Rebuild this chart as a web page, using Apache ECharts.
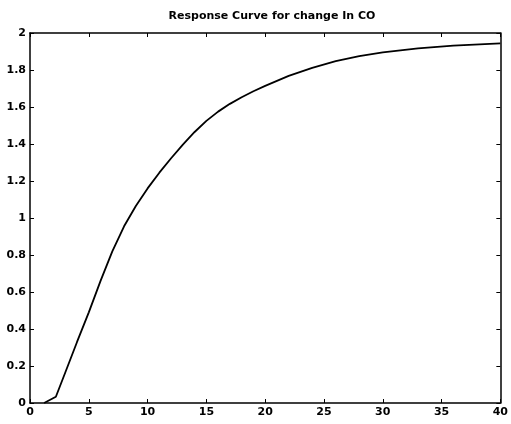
<!DOCTYPE html>
<html>
<head>
<meta charset="utf-8">
<script src="https://cdn.jsdelivr.net/npm/echarts@6/dist/echarts.min.js"></script>
<style>
  html, body { margin: 0; padding: 0; background: #fff; }
  #chart { width: 511px; height: 424px; }
</style>
</head>
<body>
<div id="chart"></div>
<script>
// time steps and response
const timeSteps = [1.2, 2.2, 3, 4, 5, 6, 7, 8, 9, 10, 11, 12, 13, 14, 15, 16, 17, 18, 19, 20, 22, 24, 26, 28, 30, 33, 36, 40];
const response  = [0, 0.034, 0.165, 0.33, 0.49, 0.66, 0.82, 0.955, 1.065, 1.16, 1.245, 1.323, 1.397, 1.465, 1.525, 1.575, 1.617, 1.653, 1.685, 1.714, 1.768, 1.812, 1.848, 1.875, 1.895, 1.917, 1.932, 1.944];
const xTicks = [0, 40, 5];   // min, max, step
const yTicks = [0, 2, 0.2];

const labelFont = { color: '#000', fontSize: 11, fontFamily: 'DejaVu Sans', fontWeight: 'bold' };
const tickStyle = { show: true, inside: true, length: 4, lineStyle: { color: '#000', width: 1 } };
const lineStyle = { show: true, onZero: false, lineStyle: { color: '#000', width: 1.5 } };

const chart = echarts.init(document.getElementById('chart'));
chart.setOption({
  animation: false,
  backgroundColor: '#fff',
  title: {
    text: 'Response Curve for change In CO',
    left: 267, top: 6, textAlign: 'center',
    textStyle: { color: '#000', fontSize: 11, fontFamily: 'DejaVu Sans', fontWeight: 'bold' }
  },
  grid: { left: 30, right: 8, top: 33, bottom: 21 },
  xAxis: [
    {
      type: 'value', min: xTicks[0], max: xTicks[1], interval: xTicks[2],
      axisLine: lineStyle, axisTick: tickStyle, splitLine: { show: false },
      axisLabel: Object.assign({ margin: 4 }, labelFont)
    },
    {
      type: 'value', position: 'top', min: xTicks[0], max: xTicks[1], interval: xTicks[2],
      axisLine: lineStyle, axisTick: tickStyle, splitLine: { show: false },
      axisLabel: { show: false }
    }
  ],
  yAxis: [
    {
      type: 'value', min: yTicks[0], max: yTicks[1], interval: yTicks[2],
      axisLine: lineStyle, axisTick: tickStyle, splitLine: { show: false },
      axisLabel: Object.assign({ margin: 4, formatter: v => String(+v.toFixed(1)) }, labelFont)
    },
    {
      type: 'value', position: 'right', min: yTicks[0], max: yTicks[1], interval: yTicks[2],
      axisLine: lineStyle, axisTick: tickStyle, splitLine: { show: false },
      axisLabel: { show: false }
    }
  ],
  series: [{
    type: 'line',
    data: timeSteps.map((t, i) => [t, response[i]]),
    showSymbol: false,
    smooth: false,
    lineStyle: { color: '#000', width: 1.8 }
  }]
});
</script>
</body>
</html>
